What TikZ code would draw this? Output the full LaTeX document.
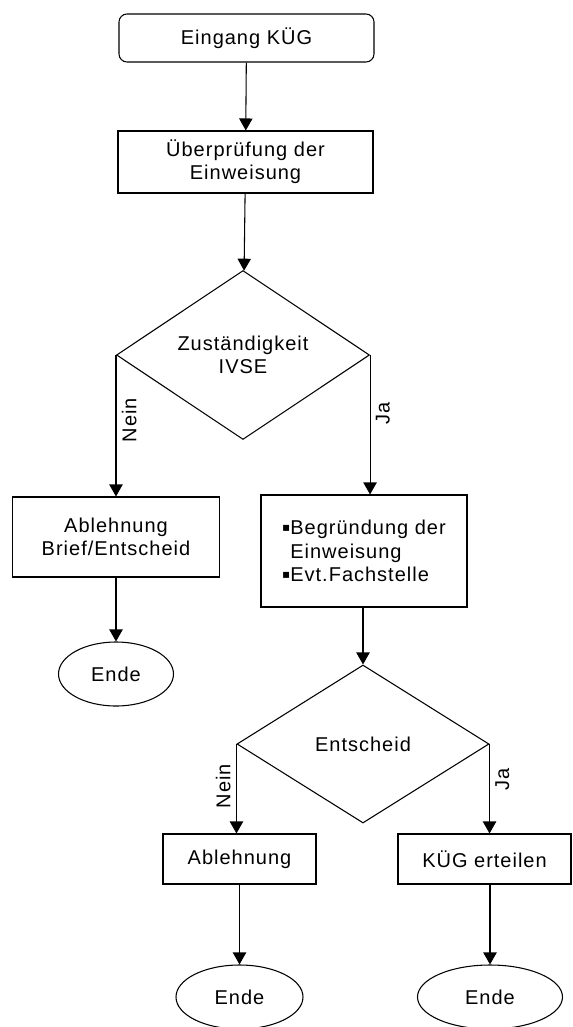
\documentclass[tikz,border=0pt]{standalone}
\usepackage{fontspec}
\setmainfont{Liberation Sans}[LetterSpace=5]
\newfontfamily\symfont{DejaVu Sans}
\usetikzlibrary{shapes.geometric, positioning, arrows.meta}
\newcommand{\sqbul}{\raisebox{2.5pt}{\symfont\fontsize{9}{10}\selectfont ▪}}
\tikzset{startbox/.style={draw,rounded corners=6pt,minimum width=191.25pt,minimum height=36pt},
         procbox/.style={draw,align=center,inner sep=0pt},
         decision/.style={draw,diamond,align=center,inner sep=0pt},
         endnode/.style={draw,ellipse,minimum height=48pt,inner sep=0pt},
         branch/.style={rotate=90,inner sep=4pt},
        }

\begin{document}
\begin{tikzpicture}[x=0.75pt,y=-0.75pt,line width=0.8pt,>={Triangle[length=9pt,width=10pt]},
        font=\fontsize{15}{17.5}\selectfont]
        \useasboundingbox (0,0) rectangle (572,1027);

        \node[startbox](eing)at(246.5,38){Eingang KÜG};
        \node[procbox,minimum width=191.25pt,minimum height=46.5pt](pruef)at(245.5,162){Überprüfung der\\Einweisung};
        \node[decision,minimum width=189.75pt,minimum height=120.75pt](zust)at(243,355){Zuständigkeit\\IVSE};
        \draw[->](eing)--(pruef);
        \draw[->](pruef)--(zust);

        \node[procbox,minimum width=155.25pt,minimum height=60pt](abl)at(116,537){Ablehnung\\Brief/Entscheid};
        \node[endnode,minimum width=86.25pt](ende)at(116,674){Ende};
        \node[procbox,align=left,minimum width=154.5pt,minimum height=84pt](begr)at(364,551){\sqbul Begründung der\\\phantom{\sqbul}Einweisung\\\sqbul Evt.Fachstelle};
        \draw[->](zust.west)--node[branch,pos=0.46,anchor=north]{Nein}(zust.west|-abl.north);
        \draw[->](zust.east)--node[branch,pos=0.42,anchor=north]{Ja}(zust.east|-begr.north);
        \draw[->](abl)--(ende);

        \node[decision,minimum width=189pt,minimum height=118.5pt](ents)at(363,744){Entscheid};
        \draw[->](begr.south-|ents.north)--(ents.north);

        \node[procbox,minimum width=114.75pt,minimum height=37.5pt](abltwo)at(239.5,859){Ablehnung};
        \node[procbox,minimum width=129.75pt,minimum height=37.5pt](kueg)at(484.5,859){KÜG erteilen};
        \draw[->](ents.west)--node[branch,pos=0.47,anchor=south]{Nein}(ents.west|-abltwo.north);
        \draw[->](ents.east)--node[branch,pos=0.4,anchor=north]{Ja}(ents.east|-kueg.north);

        \node[endnode,minimum width=95.25pt](endetwo)at(239.5,997){Ende};
        \node[endnode,minimum width=108.75pt](endethree)at(490,997){Ende};
        \draw[->](abltwo.south-|endetwo.north)--(endetwo.north);
        \draw[->](kueg.south-|endethree.north)--(endethree.north);
    \end{tikzpicture}
\end{document}
